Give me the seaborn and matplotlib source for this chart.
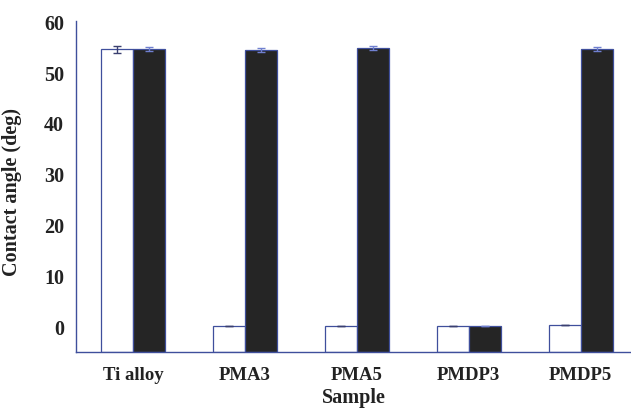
import numpy as np
import pandas as pd
import matplotlib
matplotlib.use("Agg")
import matplotlib.pyplot as plt
import seaborn as sns

samples = ["Ti alloy", "PMA3", "PMA5", "PMDP3", "PMDP5"]
before = [54.5, 0.1, 0.2, 0.2, 0.3]
after = [54.6, 54.4, 54.7, 0.2, 54.6]
before_err = [0.7, 0.0, 0.0, 0.0, 0.0]
after_err = [0.4, 0.4, 0.4, 0.0, 0.4]

df = pd.DataFrame({
    "Sample": samples * 2,
    "angle": before + after,
    "group": ["before"] * len(samples) + ["after"] * len(samples),
})

sns.set_style("white")
plt.rcParams["font.family"] = ["Liberation Serif", "DejaVu Serif"]
plt.rcParams["font.weight"] = "bold"

edge = "#3f4f9c"
fig = plt.figure(figsize=(6.31, 4.10), dpi=100)
ax = fig.add_axes([0.1204, 0.139, 0.8796, 0.807])

sns.barplot(data=df, x="Sample", y="angle", hue="group",
            palette={"before": "white", "after": "#252525"},
            width=0.57, gap=0, edgecolor=edge, linewidth=0.9,
            errorbar=None, legend=False, ax=ax)

# bars start at the bottom of the axis (-5) like the original
ymin = -5
for p in ax.patches:
    h = p.get_height()
    p.set_y(ymin)
    p.set_height(h - ymin)

x = np.arange(len(samples))
bw = 0.57 / 2
ax.errorbar(x - bw / 2, before, yerr=before_err, fmt="none", ecolor="#3a3f70",
            elinewidth=1, capsize=3, capthick=1)
ax.errorbar(x + bw / 2, after, yerr=after_err, fmt="none", ecolor="#7080d0",
            elinewidth=1, capsize=3, capthick=1)

ax.set_ylim(ymin, 60)
ax.set_xlim(-0.51, 4.45)
ax.set_yticks(range(0, 61, 10))
ax.set_yticks(range(-5, 60, 5), minor=True)
ax.set_xticks(x)
ax.set_xticklabels(samples, fontsize=13.5, fontweight="bold", color="#222222")
ax.set_xticks(x[:-1] + 0.5, minor=True)
ax.tick_params(axis="x", which="major", length=0, pad=10)
ax.tick_params(axis="x", which="minor", length=3, color=edge, direction="out")
ax.tick_params(axis="y", which="major", length=4, color=edge, direction="out",
               labelsize=14.5, labelcolor="#222222", pad=4.5)
ax.tick_params(axis="y", which="minor", length=2, color=edge, direction="out")
for t in ax.get_yticklabels():
    t.set_fontweight("bold")

ax.set_xlabel("Sample", fontsize=14.5, fontweight="bold", color="#222222", labelpad=3)
ax.set_ylabel("Contact angle (deg)", fontsize=14.5, fontweight="bold", color="#222222")
ax.yaxis.set_label_coords(-0.098, 0.486)

sns.despine(ax=ax, top=True, right=True)
ax.spines["left"].set_color(edge)
ax.spines["bottom"].set_color(edge)
ax.spines["left"].set_linewidth(1)
ax.spines["bottom"].set_linewidth(1)

fig.savefig("out.png", dpi=100)
